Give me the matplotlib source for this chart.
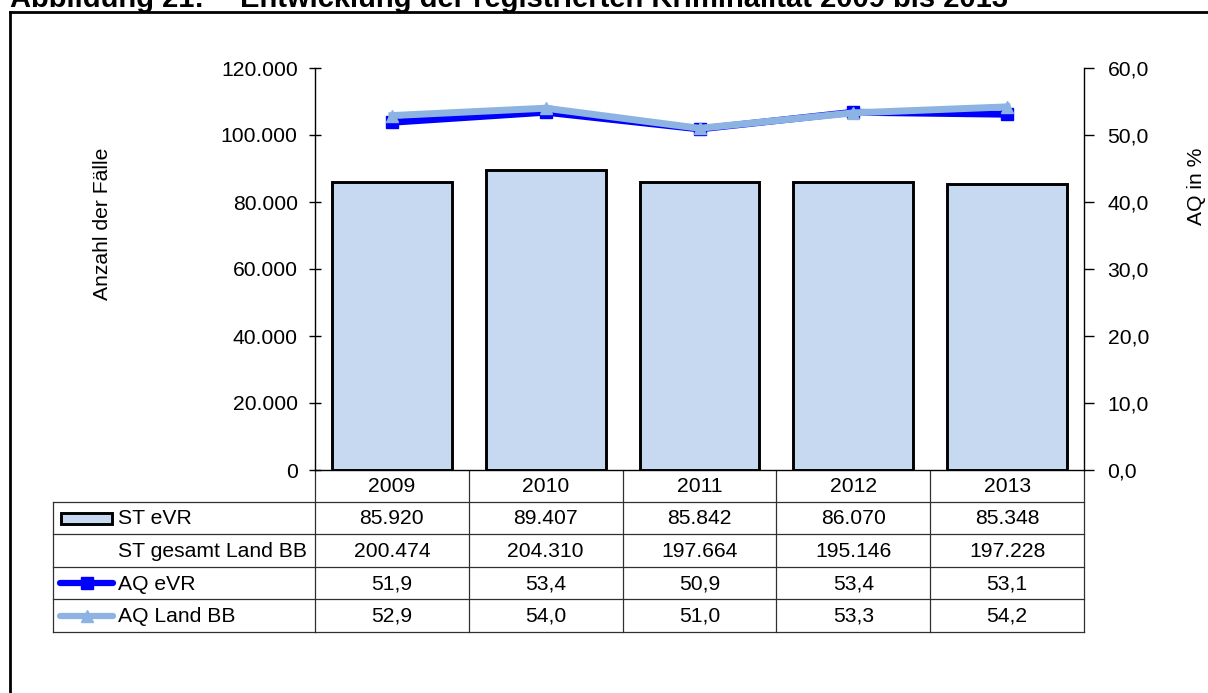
import matplotlib
matplotlib.use("Agg")
import matplotlib.pyplot as plt
import matplotlib.transforms as mtransforms
from matplotlib.patches import Rectangle
from matplotlib.lines import Line2D

plt.rcParams['font.family'] = ['Liberation Sans', 'DejaVu Sans']

years = ["2009", "2010", "2011", "2012", "2013"]
st_evr = [85920, 89407, 85842, 86070, 85348]
st_gesamt = [200474, 204310, 197664, 195146, 197228]
aq_evr = [51.9, 53.4, 50.9, 53.4, 53.1]
aq_land = [52.9, 54.0, 51.0, 53.3, 54.2]
left_ticks = [0, 20000, 40000, 60000, 80000, 100000, 120000]
right_ticks = [0, 10, 20, 30, 40, 50, 60]
row_names = ["ST eVR", "ST gesamt Land BB", "AQ eVR", "AQ Land BB"]

title_a = "Abbildung 21:"
title_b = "Entwicklung der registrierten Kriminalität 2009 bis 2013"
ylabel_left = "Anzahl der Fälle"
ylabel_right = "AQ in %"

BAR_COLOR = "#C6D9F0"
EVR_COLOR = "#0000FF"
LAND_COLOR = "#8DB3E2"
FS = 15.2

W, H = 1208, 693
fig = plt.figure(figsize=(W / 100, H / 100), dpi=100)

# overlay axes in pixel coordinates (y downwards)
ov = fig.add_axes([0, 0, 1, 1])
ov.set_xlim(0, W)
ov.set_ylim(H, 0)
ov.axis('off')

def px_ax(l, t, r, b):
    return [l / W, 1 - b / H, (r - l) / W, (b - t) / H]

ax = fig.add_axes(px_ax(315, 68, 1084, 470))
ax2 = ax.twinx()

x = list(range(len(years)))
ax.bar(x, st_evr, width=0.78, color=BAR_COLOR, edgecolor="black", linewidth=2.1, zorder=2)
ax.set_xlim(-0.5, len(years) - 0.5)
ax.set_ylim(0, 120000)
ax.set_yticks(left_ticks)
ax.set_yticklabels([f"{v:,}".replace(",", ".") for v in left_ticks], fontsize=FS)
ax.set_xticks([])
ax.tick_params(axis='y', direction='inout', length=9, width=1, colors='black', pad=8)
for s in ['top', 'right']:
    ax.spines[s].set_visible(False)
ax.spines['left'].set_linewidth(1)
ax.spines['bottom'].set_linewidth(1)

ax2.plot(x, aq_evr, color=EVR_COLOR, lw=5.0, marker='s', ms=8.5, zorder=3)
ax2.plot(x, aq_land, color=LAND_COLOR, lw=5.0, marker='^', ms=9, zorder=4)
ax2.set_ylim(0, 60)
ax2.set_yticks(right_ticks)
ax2.set_yticklabels([f"{v:.1f}".replace(".", ",") for v in right_ticks], fontsize=FS)
ax2.tick_params(axis='y', direction='out', length=7, width=1, colors='black', pad=10)
for s in ['top', 'left', 'bottom']:
    ax2.spines[s].set_visible(False)
ax2.spines['right'].set_linewidth(1)

# axis titles
ov.text(103, 148, ylabel_left, rotation=90, ha='center', va='top', fontsize=FS)
ov.text(1197, 148, ylabel_right, rotation=90, ha='center', va='top', fontsize=FS)

# title (partly clipped at the top)
ov.text(10, 7, title_a, ha='left', va='baseline', fontsize=21, fontweight='bold')
ov.text(240, 7, title_b, ha='left', va='baseline', fontsize=21, fontweight='bold')

# outer frame
ov.plot([10, 10], [12, H + 10], color='black', lw=2.0, solid_capstyle='projecting')
ov.plot([10, W + 10], [12, 12], color='black', lw=2.0, solid_capstyle='projecting')

# data table
bt = mtransforms.blended_transform_factory(ax.transData, ov.transData)
row_edges = [470, 502, 534, 567, 599, 632]
LC = "#303030"
n = len(years)
for i in range(n + 1):
    ov.plot([i - 0.5, i - 0.5], [470, 632], color=LC, lw=0.9, transform=bt, clip_on=False)
ov.plot([53, 53], [502, 632], color=LC, lw=0.9)
x_left_px = 315
for yb in row_edges[1:]:
    ov.plot([53, x_left_px], [yb, yb], color=LC, lw=0.9)
    ov.plot([-0.5, n - 0.5], [yb, yb], color=LC, lw=0.9, transform=bt, clip_on=False)

rows = [
    years,
    [f"{v:,}".replace(",", ".") for v in st_evr],
    [f"{v:,}".replace(",", ".") for v in st_gesamt],
    [f"{v:.1f}".replace(".", ",") for v in aq_evr],
    [f"{v:.1f}".replace(".", ",") for v in aq_land],
]
for r, vals in enumerate(rows):
    yc = (row_edges[r] + row_edges[r + 1]) / 2
    for i, v in enumerate(vals):
        ov.text(i, yc + 1, v, ha='center', va='center', fontsize=FS, transform=bt)

for r, name in enumerate(row_names):
    yc = (row_edges[r + 1] + row_edges[r + 2]) / 2
    ov.text(118, yc + 1, name, ha='left', va='center', fontsize=FS)

# legend keys
y0 = (row_edges[1] + row_edges[2]) / 2
ov.add_patch(Rectangle((61, y0 - 5), 51, 11, facecolor=BAR_COLOR, edgecolor='black', lw=2.1))
y2 = (row_edges[3] + row_edges[4]) / 2
ov.add_line(Line2D([60, 113], [y2, y2], color=EVR_COLOR, lw=4.5, solid_capstyle='round'))
ov.add_line(Line2D([87], [y2], color=EVR_COLOR, marker='s', ms=8))
y3 = (row_edges[4] + row_edges[5]) / 2
ov.add_line(Line2D([60, 113], [y3, y3], color=LAND_COLOR, lw=4.5, solid_capstyle='round'))
ov.add_line(Line2D([87], [y3], color=LAND_COLOR, marker='^', ms=9))

fig.savefig("out.png", dpi=100)
